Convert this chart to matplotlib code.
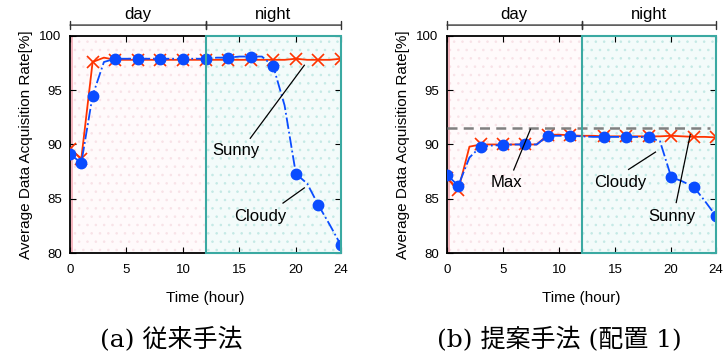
import matplotlib
matplotlib.use("Agg")
import matplotlib.pyplot as plt
from matplotlib.patches import Rectangle

plt.rcParams["hatch.linewidth"] = 0.6

hours = list(range(25))

# (a) conventional method
conv_sunny = [89.6, 88.7, 97.6, 98.0, 97.8, 97.8, 97.8, 97.8, 97.8, 97.8, 97.8, 97.8, 97.8,
              97.8, 97.8, 97.8, 97.8, 97.8, 97.8, 97.8, 97.9, 97.8, 97.8, 97.8, 97.9]
conv_cloudy = [89.1, 88.3, 94.5, 97.6, 97.9, 97.9, 97.9, 97.9, 97.9, 97.9, 97.9, 97.9, 97.9,
               98.0, 98.0, 98.1, 98.1, 98.1, 97.2, 93.6, 87.3, 86.4, 84.4, 82.6, 80.7]
conv_marks = [0, 1, 2, 4, 6, 8, 10, 12, 14, 16, 18, 20, 22, 24]

# (b) proposed method (placement 1)
prop_sunny = [86.9, 85.8, 89.8, 90.0, 90.0, 90.0, 90.0, 90.0, 90.0, 90.9, 90.9, 90.85, 90.8,
              90.8, 90.75, 90.75, 90.75, 90.75, 90.75, 90.75, 90.8, 90.75, 90.7, 90.7, 90.65]
prop_cloudy = [87.2, 86.2, 88.8, 89.8, 89.9, 89.95, 90.0, 90.0, 90.0, 90.8, 90.8, 90.8, 90.75,
               90.7, 90.7, 90.7, 90.7, 90.7, 90.65, 90.3, 87.0, 86.6, 86.1, 84.8, 83.4]
prop_marks = [0, 1, 3, 5, 7, 9, 11, 14, 16, 18, 20, 22, 24]
prop_max = 91.5

xticks = [0, 5, 10, 15, 20, 24]
yticks = [80, 85, 90, 95, 100]

RED = "#ff3300"
BLUE = "#0a4cff"
TEAL = "#3aa9a2"
PINK = "#f4a9b4"
font = "Liberation Sans"
cap_font = ["DejaVu Serif", "Noto Sans CJK JP"]

fig = plt.figure(figsize=(7.25, 3.63), dpi=100)
ax1 = fig.add_axes([0.0966, 0.303, 0.3738, 0.598])
ax2 = fig.add_axes([0.6166, 0.303, 0.371, 0.598])


def setup(ax, sunny, cloudy, marks):
    ax.set_xlim(0, 24)
    ax.set_ylim(80, 100)
    # day / night shading
    ax.add_patch(Rectangle((0, 80), 12, 20, facecolor="#fffafb", edgecolor="#f8e2e7",
                           hatch="..", lw=0, zorder=0))
    ax.plot([0.15, 0.15], [80, 100], color=PINK, lw=1.2, zorder=1)
    ax.add_patch(Rectangle((12, 80), 12, 20, facecolor="#f3fbfa", edgecolor="#c4e9e5",
                           hatch="..", lw=0, zorder=0))
    ax.add_patch(Rectangle((12, 80), 12, 20, facecolor="none", edgecolor=TEAL,
                           lw=1.5, zorder=5, clip_on=False))
    ax.plot(hours, sunny, color=RED, lw=1.3, marker="x", ms=8, mew=1.2,
            markevery=marks, zorder=3)
    ax.plot(hours, cloudy, color=BLUE, lw=1.3, ls="-.", marker="o", ms=7.5,
            markevery=marks, zorder=4)
    ax.set_xticks(xticks)
    ax.set_yticks(yticks)
    ax.tick_params(direction="in", top=True, right=True, length=4, width=0.8,
                   labelsize=9.5)
    ax.tick_params(axis="x", pad=8)
    ax.tick_params(axis="y", pad=6)
    for lab in ax.get_xticklabels() + ax.get_yticklabels():
        lab.set_fontfamily(font)
    for s in ax.spines.values():
        s.set_linewidth(1.3)
    ax.set_xlabel("Time (hour)", fontsize=11, family=font, labelpad=11)
    ax.set_ylabel("Average Data Acquisition Rate[%]", fontsize=11, family=font, labelpad=5)
    # day / night brackets
    for x0, x1, name in [(0, 12, "day"), (12, 24, "night")]:
        ax.annotate("", xy=(x0, 101.0), xytext=(x1, 101.0), annotation_clip=False,
                    arrowprops=dict(arrowstyle="|-|,widthA=0.3,widthB=0.3", color="#333333",
                                    lw=1.0, shrinkA=0, shrinkB=0))
        ax.text((x0 + x1) / 2, 101.95, name, ha="center", va="center", fontsize=12,
                family=font, clip_on=False)


def label(ax, text, txy, p0, p1):
    ax.plot([p0[0], p1[0]], [p0[1], p1[1]], color="black", lw=0.9, zorder=6)
    ax.text(txy[0], txy[1], text, ha="center", va="center", fontsize=12, family=font,
            zorder=6)


setup(ax1, conv_sunny, conv_cloudy, conv_marks)
label(ax1, "Sunny", (14.7, 89.4), (15.96, 90.57), (20.75, 97.3))
label(ax1, "Cloudy", (16.85, 83.4), (18.86, 84.6), (20.75, 86.0))

setup(ax2, prop_sunny, prop_cloudy, prop_marks)
ax2.plot([0, 23.5], [prop_max, prop_max], color="#808080", lw=1.8, ls=(0, (4, 2.5)), zorder=3)
label(ax2, "Max", (5.3, 86.5), (5.95, 87.65), (7.44, 91.4))
label(ax2, "Cloudy", (15.5, 86.5), (16.2, 87.7), (18.6, 89.3))
label(ax2, "Sunny", (20.1, 83.4), (20.45, 84.65), (21.7, 90.9))

fig.text(100 / 725, 1 - 340 / 363, "(a) 従来手法", ha="left", va="center", fontsize=18,
         family=cap_font)
fig.text(437 / 725, 1 - 340 / 363, "(b) 提案手法 (配置 1)", ha="left", va="center",
         fontsize=18, family=cap_font)

fig.savefig("out.png", dpi=100)
